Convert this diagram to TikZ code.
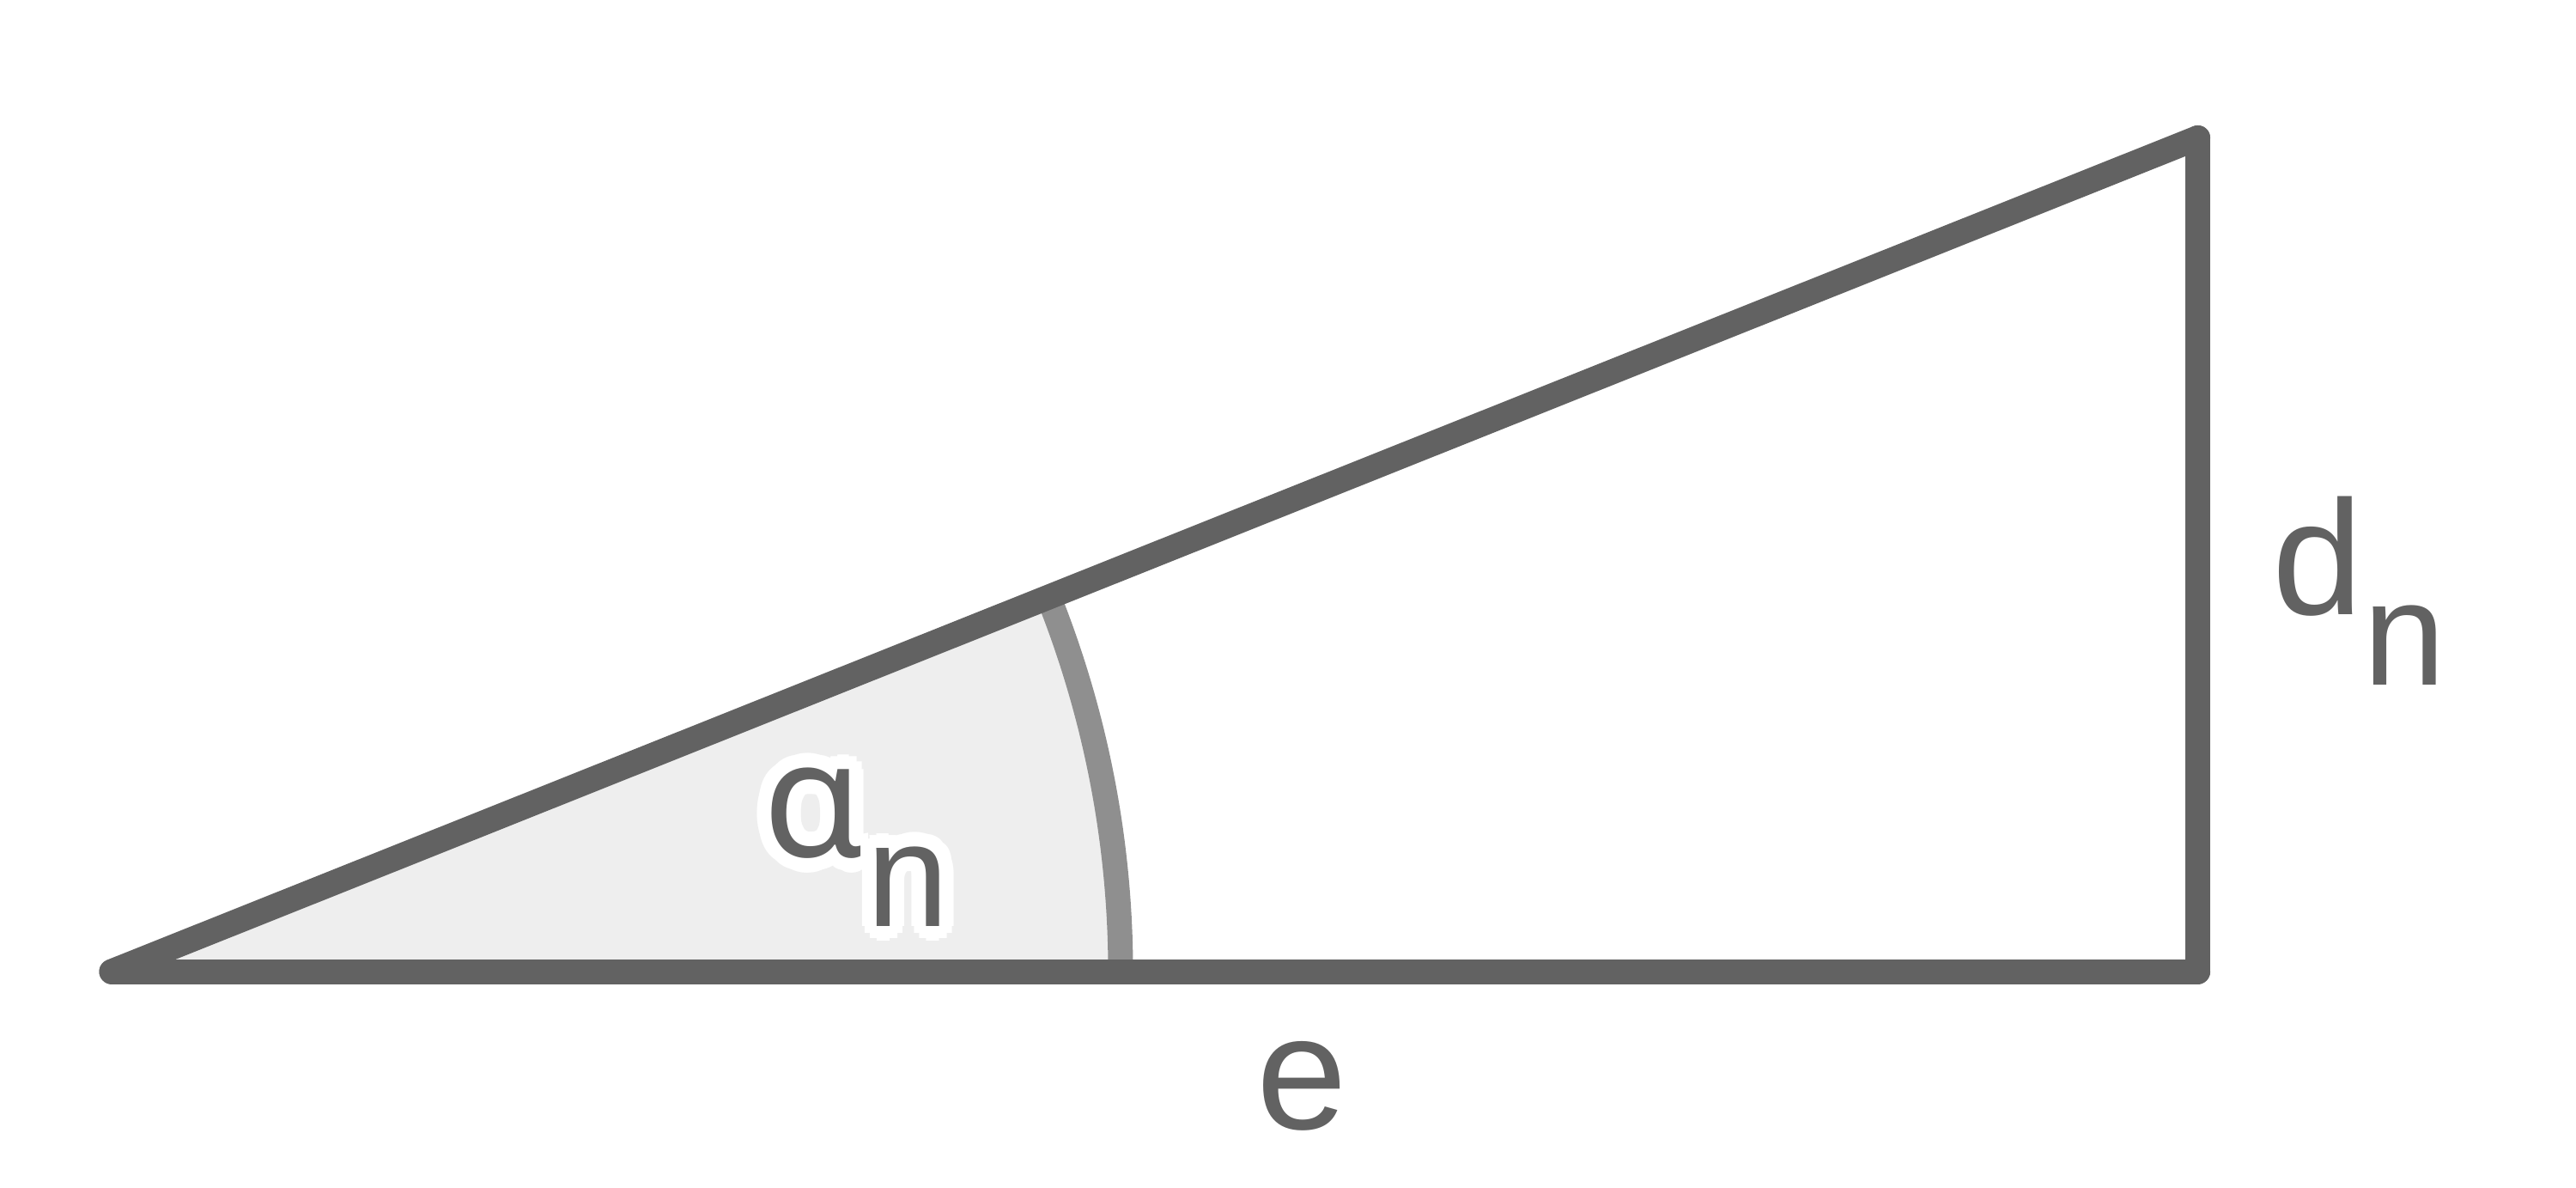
\documentclass[tikz,border=0pt]{standalone}
\usepackage{fontspec}
\setmainfont{Liberation Sans}
\newfontfamily\alphafont{Noto Sans}
\usetikzlibrary{angles, calc}
\definecolor{edgegray}{RGB}{98,98,98}
\definecolor{arcgray}{RGB}{143,143,143}
\definecolor{fillgray}{RGB}{238,238,238}
\newcommand{\subn}{{\fontsize{49}{49}\selectfont n}}
\newcommand{\alphatext}{{\alphafont α}\hspace{0.03cm}\raisebox{-0.81cm}{\subn}}

\begin{document}
\begin{tikzpicture}[
    side/.style={draw=edgegray, line width=0.29cm, line cap=round, line join=round},
    lbl/.style={text=edgegray, inner sep=0pt, font=\fontsize{54}{54}\selectfont},
    halo/.style={text=white, inner sep=0pt, font=\fontsize{54}{54}\selectfont}]
        \useasboundingbox (0,0) rectangle (30,13.82);
        \coordinate (A) at (1.30,2.51);
        \coordinate (C) at (25.595,2.51);
        \coordinate (B) at (25.595,12.215);

        \pic[draw=arcgray, fill=fillgray, line width=0.29cm, angle radius=11.75cm] {angle=C--A--B};

        \draw[side] (A)-- (C);
        \draw[side] (C)-- (B);
        \draw[side] (B)-- (A);

        \foreach \k in {1,...,12}
            \node[halo, anchor=base west] (halo\k) at ($(8.88,3.85)+(\k*30:0.17)$) {\alphatext};
        \node[lbl, anchor=base west] (alpha) at (8.88,3.85) {\alphatext};
        \node[lbl, anchor=base] (e) at (15.16,0.68) {e};
        \node[lbl, anchor=base west] (d) at (26.46,6.67) {d\raisebox{-0.82cm}{\subn}};
    \end{tikzpicture}
\end{document}
